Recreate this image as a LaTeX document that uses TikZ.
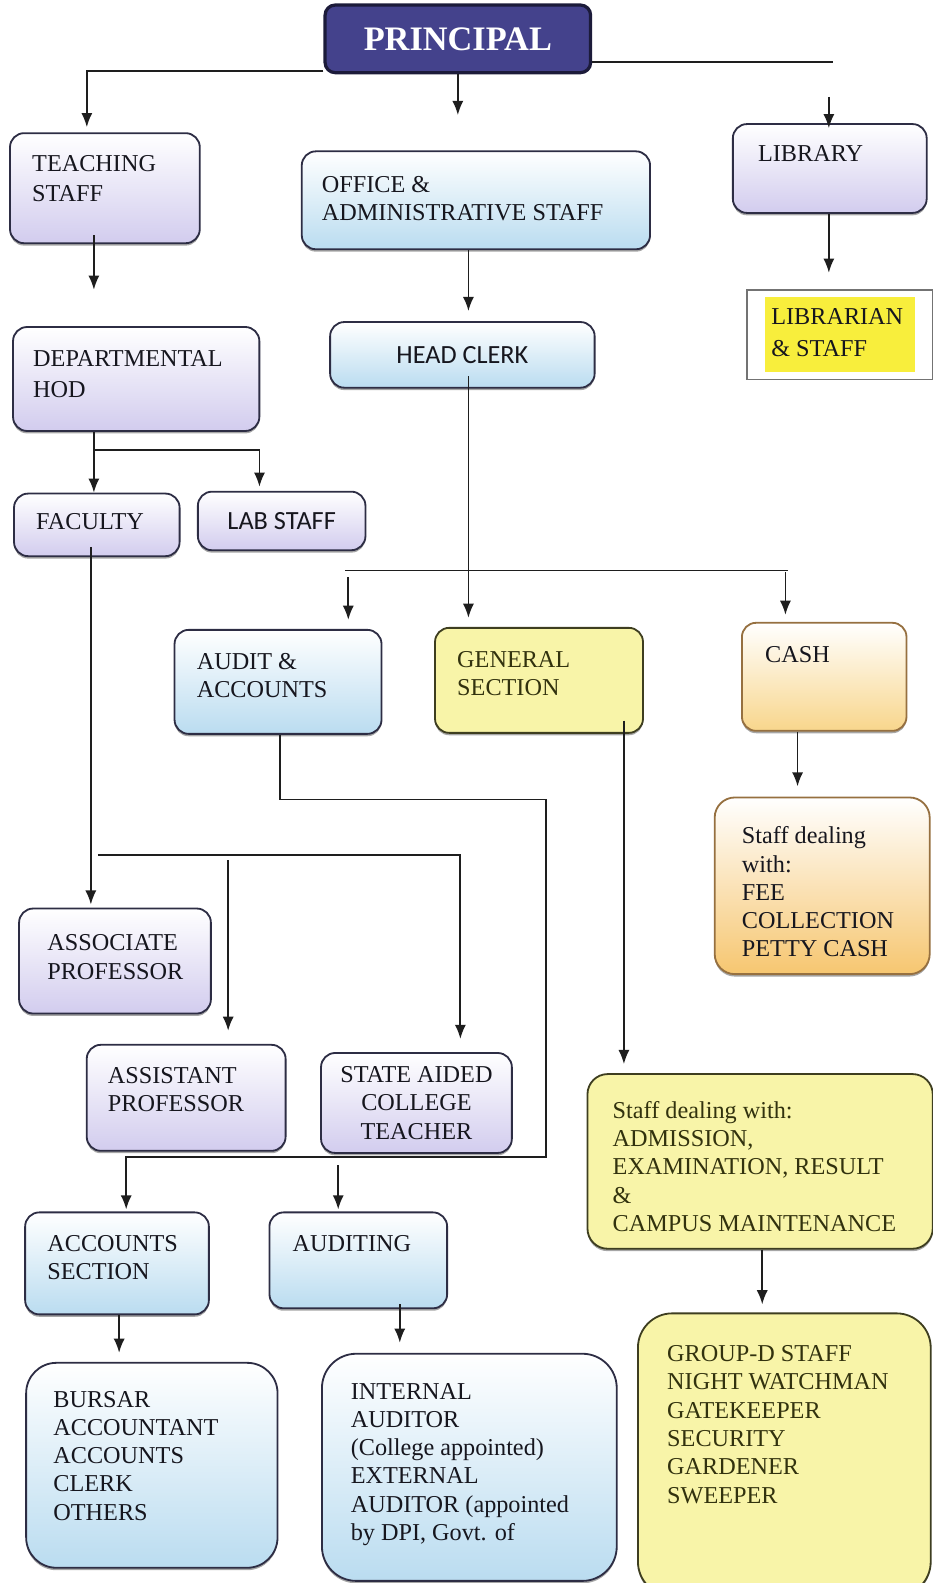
\documentclass[tikz,border=0pt]{standalone}
\usepackage{fontspec}
\setmainfont{Liberation Serif}
\newfontfamily\calib{Carlito}
\usetikzlibrary{arrows.meta, positioning, shadows}

\definecolor{navy}{RGB}{68,66,140}
\definecolor{navyline}{RGB}{28,27,58}
\definecolor{boxline}{RGB}{45,45,68}
\definecolor{lavbot}{RGB}{210,204,238}
\definecolor{blubot}{RGB}{186,220,240}
\definecolor{yelfill}{RGB}{248,244,168}
\definecolor{yelline}{RGB}{62,62,32}
\definecolor{orgbot}{RGB}{246,198,112}
\definecolor{cashbot}{RGB}{248,214,140}
\definecolor{orgline}{RGB}{150,112,64}
\definecolor{hilite}{RGB}{248,238,60}
\definecolor{lineclr}{RGB}{30,30,30}
\definecolor{ink}{RGB}{22,22,30}
\definecolor{olive}{RGB}{50,50,14}

% text block of a box: width, height, left pad, top pad, lines
\newcommand{\celltext}[5]{\parbox[t][#2][t]{#1}{\raggedright\leftskip=#3\relax\vspace*{#4}#5}}

\tikzset{
  box/.style={draw=boxline, line width=0.9pt, rounded corners=7pt, inner sep=0pt,
    text=ink, font=\fontsize{12}{14}\selectfont,
    drop shadow={shadow xshift=0pt, shadow yshift=-1.2pt, opacity=0.35, fill=black}},
  lav/.style={box, top color=white, bottom color=lavbot},
  blu/.style={box, top color=white, bottom color=blubot},
  yel/.style={box, fill=yelfill, draw=yelline, text=olive},
  org/.style={box, top color=white, bottom color=orgbot, draw=orgline},
  boss/.style={draw=navyline, fill=navy, line width=1.6pt, rounded corners=5pt,
    minimum width=131.5pt, minimum height=33.5pt, text=white,
    font=\fontsize{17}{20}\selectfont\bfseries},
  plainbox/.style={draw=black!55, line width=0.8pt, fill=white, inner sep=0pt,
    text=ink, font=\fontsize{12}{15}\selectfont},
  link/.style={->, draw=lineclr, line width=0.9pt},
  rule/.style={draw=lineclr, line width=0.9pt}
}

\begin{document}
\begin{tikzpicture}[x=0.5pt, y=-0.5pt, >={Latex[length=7pt,width=5.5pt]}]
\useasboundingbox (0,0) rectangle (924,1568);

% top
\node[boss] (principal) at (453.5,38.5) {PRINCIPAL};

\node[lav, anchor=north west] (teach) at (9,131)
  {\celltext{94pt}{54.5pt}{11pt}{11pt}{TEACHING\\[1pt]STAFF}};
\node[blu, anchor=north west] (office) at (298,149)
  {\celltext{172.5pt}{48.5pt}{10pt}{12.5pt}{OFFICE \&\\ADMINISTRATIVE STAFF}};
\node[lav, anchor=north west] (lib) at (725,122)
  {\celltext{96pt}{44pt}{12.5pt}{10.5pt}{LIBRARY}};
\node[plainbox, minimum width=92pt, minimum height=44.5pt] (libstaff) at (832,331.5)
  {\fboxsep=3pt\colorbox{hilite}{\parbox{68pt}{\strut LIBRARIAN\\[1pt]\& STAFF\strut}}};

\node[lav, anchor=north west] (dept) at (12,323)
  {\celltext{122pt}{51.5pt}{10pt}{11.5pt}{DEPARTMENTAL\\[1.5pt]HOD}};
\node[blu, minimum width=131pt, minimum height=32.5pt, font=\calib\fontsize{13}{15}\selectfont]
  (head) at (458,351.5) {HEAD CLERK};

\node[lav, anchor=north west] (fac) at (13,488)
  {\celltext{82pt}{31pt}{11pt}{9.75pt}{FACULTY}};
\node[lav, minimum width=83pt, minimum height=29pt, font=\calib\fontsize{13}{15}\selectfont]
  (lab) at (279,516) {LAB STAFF};

% sections under head clerk
\node[blu, anchor=north west] (audit) at (172,623)
  {\celltext{102.5pt}{51.5pt}{11pt}{11.5pt}{AUDIT \&\\ACCOUNTS}};
\node[yel, anchor=north west] (gen) at (430,621)
  {\celltext{103pt}{52pt}{11pt}{11.5pt}{GENERAL\\SECTION}};
\node[org, bottom color=cashbot, anchor=north west] (cash) at (734,616)
  {\celltext{81.5pt}{53.5pt}{11.5pt}{11.5pt}{CASH}};
\node[org, rounded corners=10pt, anchor=north west] (fee) at (707,789)
  {\celltext{106.5pt}{87.5pt}{13.5pt}{14.5pt}{Staff dealing\\with:\\FEE\\COLLECTION\\PETTY CASH}};

% teachers
\node[lav, anchor=north west] (assoc) at (18,899)
  {\celltext{95pt}{52pt}{14pt}{13pt}{ASSOCIATE\\PROFESSOR}};
\node[lav, anchor=north west] (asst) at (85,1034)
  {\celltext{98.5pt}{52.5pt}{10.5pt}{11pt}{ASSISTANT\\PROFESSOR}};
\node[lav, minimum width=94.5pt, minimum height=49.5pt, align=center]
  (state) at (412.5,1092.5) {STATE AIDED\\COLLEGE\\TEACHER};

\node[yel, rounded corners=10pt, anchor=north west] (adm) at (581,1063)
  {\celltext{171pt}{86.5pt}{12.5pt}{13.5pt}{Staff dealing with:\\ADMISSION,\\EXAMINATION, RESULT\\\&\\CAMPUS MAINTENANCE}};

% accounts and audit
\node[blu, anchor=north west] (accts) at (24,1200)
  {\celltext{91pt}{50.5pt}{11pt}{11.5pt}{ACCOUNTS\\SECTION}};
\node[blu, anchor=north west] (auditing) at (266,1200)
  {\celltext{88pt}{47.5pt}{11.5pt}{11.5pt}{AUDITING}};
\node[blu, rounded corners=15pt, anchor=north west] (bursar) at (25,1349)
  {\celltext{124.5pt}{101.5pt}{13.5pt}{14pt}{BURSAR\\ACCOUNTANT\\ACCOUNTS\\CLERK\\OTHERS}};
\node[blu, rounded corners=17pt, anchor=north west] (internal) at (318,1340)
  {\celltext{146pt}{112.5pt}{14.3pt}{14.5pt}{INTERNAL\\AUDITOR\\(College appointed)\\EXTERNAL\\AUDITOR (appointed\\by DPI, Govt. of}};
\node[yel, rounded corners=17pt, anchor=north west] (groupd) at (631,1300)
  {\celltext{145pt}{140pt}{14.5pt}{16pt}{GROUP-D STAFF\\NIGHT WATCHMAN\\GATEKEEPER\\SECURITY\\GARDENER\\SWEEPER}};

% columns and junctions
\coordinate (tcol) at (86,0);
\coordinate (hcol) at (93,0);
\coordinate (labcol) at (257,0);
\coordinate (ccol) at (464,0);
\coordinate (lcol) at (821,0);
\coordinate (libin) at (821,96);
\coordinate (dsplit) at (93,446);
\coordinate (hsplitL) at (342,565);
\coordinate (hsplitR) at (781,565);
\coordinate (acol) at (345,0);
\coordinate (kcol) at (778,0);
\coordinate (fcol) at (790,0);
\coordinate (gcol) at (618,0);
\coordinate (aucol) at (277,0);
\coordinate (abend) at (541,792);
\coordinate (absplit) at (541,1146);
\coordinate (acccol) at (125,0);
\coordinate (adtcol) at (335,0);
\coordinate (fxcol) at (90,0);
\coordinate (fsplit) at (97,847);
\coordinate (stcol) at (456,0);
\coordinate (ascol) at (226,0);
\coordinate (dcol) at (755,0);
\coordinate (bcol) at (118,0);
\coordinate (icol) at (396,0);

% connectors from the principal
\draw[link, shorten >=2.5pt] ([yshift=1.5pt]principal.south west) -| (tcol |- teach.north);
\draw[link, shorten >=17.5pt] (principal.south) -- (principal.south |- office.north);
\draw[rule] ([yshift=6.25pt]principal.south east) -- ([yshift=6.25pt,xshift=2pt]principal.south east -| lcol);
\draw[link, shorten >=-2.5pt] (libin) -- (libin |- lib.north);

\draw[link, shorten <=-4.5pt, shorten >=18pt] (hcol |- teach.south) -- (hcol |- dept.north);
\draw[link, shorten >=5pt] (ccol |- office.south) -- (ccol |- head.north);
\draw[link, shorten >=8pt] (lcol |- lib.south) -- (lcol |- libstaff.north);

% teaching side
\draw[link] (hcol |- dept.south) -- (hcol |- fac.north);
\draw[link, shorten >=2pt] (dsplit) -| (labcol |- lab.north);
\draw[link, shorten <=-5pt, shorten >=1.5pt] (fxcol |- fac.south) -- (fxcol |- assoc.north);
\draw[link, shorten >=6.5pt] (fsplit) -| (stcol |- state.north);
\draw[link, shorten <=2.5pt, shorten >=6.5pt] (ascol |- fsplit) -- (ascol |- asst.north);

% office side
\draw[link, shorten <=-6pt, shorten >=4.5pt] (ccol |- head.south) -- (ccol |- gen.north);
\draw[rule] (hsplitL) -- (hsplitR);
\draw[link, shorten <=3.5pt, shorten >=4.5pt] (acol |- hsplitL) -- (acol |- audit.north);
\draw[link, shorten <=1pt, shorten >=3.5pt] (kcol |- hsplitR) -- (kcol |- cash.north);
\draw[link, shorten >=5pt] (fcol |- cash.south) -- (fcol |- fee.north);
\draw[link, shorten <=-6.5pt, shorten >=4.5pt] (gcol |- gen.south) -- (gcol |- adm.north);
\draw[link, shorten >=4pt] (dcol |- adm.south) -- (dcol |- groupd.north);

\draw[link, shorten >=1pt] (aucol |- audit.south) |- (abend) -- (absplit) -| (acccol |- accts.north);
\draw[link, shorten <=4pt, shorten >=1pt] (adtcol |- absplit) -- (adtcol |- auditing.north);
\draw[link, shorten >=4.5pt] (bcol |- accts.south) -- (bcol |- bursar.north);
\draw[link, shorten <=-2.5pt, shorten >=5pt] (icol |- auditing.south) -- (icol |- internal.north);
\end{tikzpicture}
\end{document}
